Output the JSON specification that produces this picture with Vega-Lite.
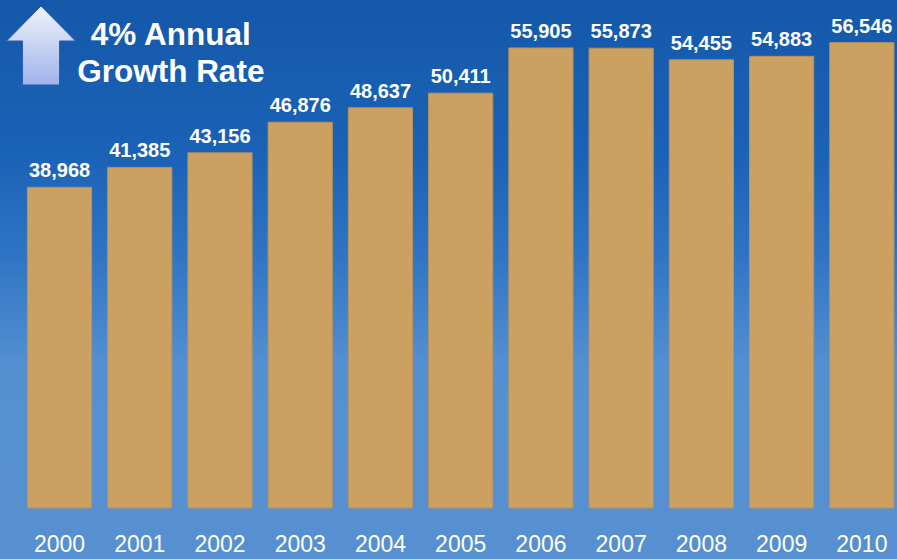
{
  "$schema": "https://vega.github.io/schema/vega-lite/v6.json",
  "width": 897,
  "height": 508,
  "autosize": {"type": "none"},
  "padding": {"left": 0, "top": 0, "right": 0, "bottom": 51},
  "background": "#5790d0",
  "config": {"view": {"stroke": null}, "font": "Liberation Sans"},
  "datasets": {
    "members": [
      {"year": "2000", "value": 38968},
      {"year": "2001", "value": 41385},
      {"year": "2002", "value": 43156},
      {"year": "2003", "value": 46876},
      {"year": "2004", "value": 48637},
      {"year": "2005", "value": 50411},
      {"year": "2006", "value": 55905},
      {"year": "2007", "value": 55873},
      {"year": "2008", "value": 54455},
      {"year": "2009", "value": 54883},
      {"year": "2010", "value": 56546}
    ]
  },
  "layer": [
    {
      "data": {"values": [{"part": "backdrop"}]},
      "mark": {
        "type": "rect",
        "color": {
          "gradient": "linear",
          "x1": 0, "y1": 0, "x2": 0, "y2": 1,
          "stops": [
            {"offset": 0, "color": "#1558aa"},
            {"offset": 0.3, "color": "#1a62b6"},
            {"offset": 0.5, "color": "#2f74c4"},
            {"offset": 0.72, "color": "#5490d1"},
            {"offset": 1, "color": "#5790d0"}
          ]
        }
      },
      "encoding": {}
    },
    {
      "data": {"name": "members"},
      "mark": {"type": "bar", "color": "#cba060", "stroke": "#b8925c", "strokeWidth": 1},
      "encoding": {
        "x": {
          "field": "year",
          "type": "ordinal",
          "scale": {"paddingInner": 0.2, "paddingOuter": 0.19, "align": 0.9},
          "axis": {
            "title": null,
            "domain": false,
            "ticks": false,
            "labelAngle": 0,
            "labelPadding": 43,
            "labelBaseline": "alphabetic",
            "labelFont": "Liberation Sans",
            "labelFontSize": 23,
            "labelColor": "#ffffff"
          }
        },
        "y": {
          "field": "value",
          "type": "quantitative",
          "scale": {"domain": [0, 61730], "nice": false, "zero": true},
          "axis": null
        }
      }
    },
    {
      "data": {"name": "members"},
      "mark": {
        "type": "text",
        "baseline": "alphabetic",
        "dy": -10,
        "font": "Liberation Sans",
        "fontSize": 20,
        "fontWeight": "bold",
        "color": "#ffffff"
      },
      "encoding": {
        "x": {"field": "year", "type": "ordinal"},
        "y": {"field": "value", "type": "quantitative"},
        "text": {"field": "value", "type": "quantitative", "format": ","}
      }
    },
    {
      "data": {"values": [{"part": "arrow"}]},
      "mark": {
        "type": "point",
        "shape": "M0,-1 L0.873,-0.114 L0.468,-0.114 L0.468,1 L-0.468,1 L-0.468,-0.114 L-0.873,-0.114 Z",
        "size": 6241,
        "filled": true,
        "opacity": 1,
        "xOffset": -18.5,
        "fill": {
          "gradient": "linear",
          "x1": 0, "y1": 0, "x2": 0, "y2": 1,
          "stops": [
            {"offset": 0, "color": "#f2f4fc"},
            {"offset": 1, "color": "#9fb3ec"}
          ]
        },
        "stroke": "#2c5fae",
        "strokeWidth": 1
      },
      "encoding": {
        "x": {"datum": "2000", "type": "ordinal"},
        "y": {"datum": 56201, "type": "quantitative"}
      }
    },
    {
      "data": {"values": [{"part": "headline"}]},
      "mark": {
        "type": "text",
        "text": ["4% Annual", "Growth Rate"],
        "align": "center",
        "baseline": "alphabetic",
        "lineHeight": 37,
        "dx": 31,
        "font": "Liberation Sans",
        "fontSize": 31.5,
        "fontWeight": "bold",
        "color": "#ffffff"
      },
      "encoding": {
        "x": {"datum": "2001", "type": "ordinal"},
        "y": {"datum": 56262, "type": "quantitative"}
      }
    }
  ]
}
